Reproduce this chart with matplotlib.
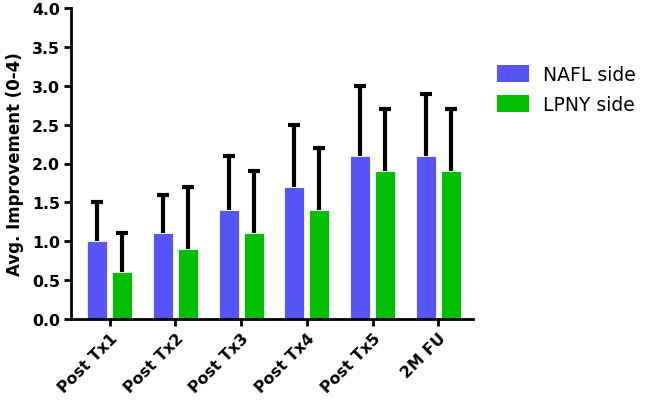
import matplotlib
matplotlib.use("Agg")
import matplotlib.pyplot as plt
import numpy as np
from matplotlib.patches import Patch

categories = ["Post Tx1", "Post Tx2", "Post Tx3", "Post Tx4", "Post Tx5", "2M FU"]
nafl = [1.0, 1.1, 1.4, 1.7, 2.1, 2.1]
nafl_err = [0.5, 0.5, 0.7, 0.8, 0.9, 0.8]
lpny = [0.6, 0.9, 1.1, 1.4, 1.9, 1.9]
lpny_err = [0.5, 0.8, 0.8, 0.8, 0.8, 0.8]

plt.rcParams['font.family'] = ['DejaVu Sans']

fig = plt.figure(figsize=(6.45, 4.02), dpi=100)
ax = fig.add_axes([71/645, 1 - 320/402, (473-71)/645, (320-9)/402])

x = np.arange(len(categories))
w = 0.305
off = 0.19
blue = "#5555FA"
green = "#00BE00"
for xs, vals, errs, col in [(x - off, nafl, nafl_err, blue), (x + off, lpny, lpny_err, green)]:
    vals = np.array(vals)
    errs = np.array(errs)
    ax.bar(xs, vals, w, color=col, edgecolor='white', linewidth=0.6, zorder=2)
    ax.vlines(xs, vals, vals + errs, color='black', linewidth=3, zorder=1)
    ax.plot(xs, vals + errs, linestyle='none', marker='_', markersize=8,
            markeredgewidth=3, color='black', zorder=1)

ax.set_xlim(-0.59, 5.53)
ax.set_ylim(0, 4.0)
yt = np.arange(0, 4.01, 0.5)
ax.set_yticks(yt)
ax.set_yticklabels([f"{v:.1f}" for v in yt], fontsize=11.3, fontweight='bold')
ax.set_xticks(x)
ax.set_xticklabels(categories, rotation=45, ha='right', rotation_mode='anchor',
                   fontsize=11.3, fontweight='bold')
ax.set_ylabel("Avg. Improvement (0-4)", fontsize=12, fontweight='bold', labelpad=6)

for s in ['top', 'right']:
    ax.spines[s].set_visible(False)
for s in ['left', 'bottom']:
    ax.spines[s].set_linewidth(2)
ax.tick_params(axis='both', width=2, length=5, direction='out', pad=3)

handles = [Patch(facecolor=blue, label="NAFL side"), Patch(facecolor=green, label="LPNY side")]
fig.legend(handles=handles, loc='upper left', bbox_to_anchor=(497/645, 1 - 66/402),
           frameon=False, fontsize=13.5, handlelength=1.7, handleheight=1.0,
           handletextpad=0.75, labelspacing=0.6, borderpad=0, borderaxespad=0)

fig.savefig("out.png", dpi=100)
